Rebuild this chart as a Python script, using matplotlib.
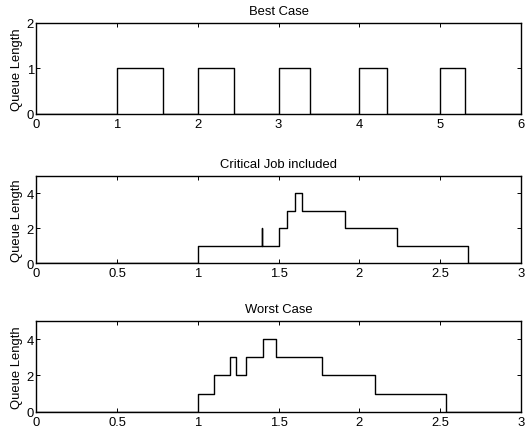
import numpy as np
import matplotlib.pyplot as plt

plt.rcParams['font.family'] = ['Liberation Sans', 'DejaVu Sans']
plt.rcParams['font.size'] = 9.4

# best case: busy intervals with queue length 1
best_start = [1.0, 2.0, 3.0, 4.0, 5.0]
best_end = [1.567, 2.449, 3.386, 4.338, 5.307]

# critical job included: step change times and levels
crit_t = [0.0, 1.0, 1.4, 1.4, 1.5, 1.55, 1.60, 1.645, 1.911, 2.235, 2.674, 3.0]
crit_q = [0, 1, 2, 1, 2, 3, 4, 3, 2, 1, 0, 0]

# worst case
worst_t = [0.0, 1.0, 1.099, 1.202, 1.237, 1.301, 1.402, 1.485, 1.767, 2.097, 2.536, 3.0]
worst_q = [0, 1, 2, 3, 2, 3, 4, 3, 2, 1, 0, 0]

best_t = [0.0]
best_q = [0]
for s, e in zip(best_start, best_end):
    best_t += [s, e]
    best_q += [1, 0]
best_t.append(6.0)
best_q.append(0)

fig = plt.figure(figsize=(5.32, 4.35), dpi=100)
boxes = [[0.068, 0.736, 0.911, 0.209],
         [0.068, 0.393, 0.911, 0.200],
         [0.068, 0.051, 0.911, 0.209]]
titles = ["Best Case", "Critical Job included", "Worst Case"]
series = [(best_t, best_q), (crit_t, crit_q), (worst_t, worst_q)]
xlims = [(0, 6), (0, 3), (0, 3)]
ylims = [(0, 2), (0, 5), (0, 5)]
yticks = [[0, 1, 2], [0, 2, 4], [0, 2, 4]]
xticks = [np.arange(0, 7, 1), np.arange(0, 3.01, 0.5), np.arange(0, 3.01, 0.5)]

for box, title, (t, q), xl, yl, yt, xt in zip(boxes, titles, series, xlims, ylims, yticks, xticks):
    ax = fig.add_axes(box)
    ax.step(t, q, where='post', color='black', linewidth=1.0)
    ax.set_xlim(xl)
    ax.set_ylim(yl)
    ax.set_yticks(yt)
    ax.set_xticks(xt)
    ax.set_xticklabels(['%g' % v for v in xt])
    ax.set_title(title, fontsize=9.4, pad=6.5)
    ax.set_ylabel("Queue Length", fontsize=9.4, labelpad=3)
    ax.tick_params(direction='in', top=True, right=True, length=3, width=0.7)
    ax.tick_params(axis='x', pad=3)
    ax.tick_params(axis='y', pad=1.5)
    for sp in ax.spines.values():
        sp.set_linewidth(1.0)

fig.savefig("out.png", dpi=100)
